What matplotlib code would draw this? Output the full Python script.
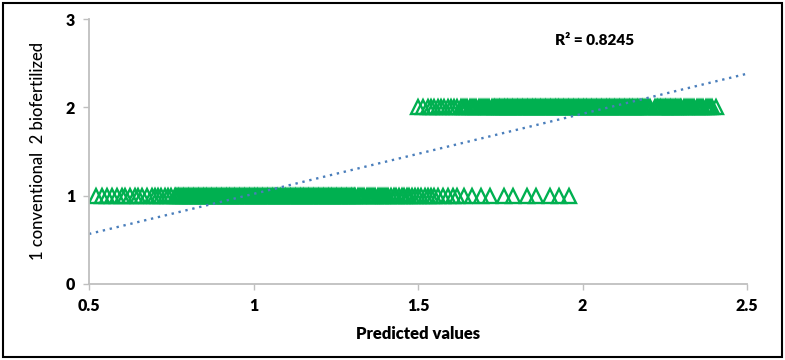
import matplotlib
matplotlib.use("Agg")
import matplotlib.pyplot as plt
from matplotlib.patches import Rectangle

# Predicted values for the conventional group (observed = 1)
conventional_pred = [
    0.52, 0.54, 0.555, 0.57, 0.585, 0.60, 0.61, 0.625, 0.64, 0.65, 0.66, 0.675,
    0.69, 0.70, 0.71, 0.72, 0.73, 0.74, 0.75, 0.76, 0.765, 0.77, 0.775, 0.78,
    0.785, 0.79, 0.795, 0.80, 0.805, 0.81, 0.815, 0.82, 0.825, 0.83, 0.835,
    0.84, 0.845, 0.85, 0.855, 0.86, 0.865, 0.87, 0.875, 0.88, 0.885, 0.89,
    0.895, 0.90, 0.905, 0.91, 0.915, 0.92, 0.925, 0.93, 0.935, 0.94, 0.945,
    0.95, 0.955, 0.96, 0.965, 0.97, 0.975, 0.98, 0.985, 0.99, 0.995, 1.00,
    1.005, 1.01, 1.015, 1.02, 1.025, 1.03, 1.035, 1.04, 1.045, 1.05, 1.055,
    1.06, 1.065, 1.07, 1.075, 1.08, 1.085, 1.09, 1.095, 1.10, 1.105, 1.11,
    1.115, 1.12, 1.125, 1.13, 1.135, 1.14, 1.145, 1.15, 1.155, 1.16, 1.165,
    1.17, 1.175, 1.18, 1.185, 1.19, 1.195, 1.20, 1.205, 1.21, 1.215, 1.22,
    1.225, 1.23, 1.235, 1.24, 1.245, 1.25, 1.255, 1.26, 1.265, 1.27, 1.275,
    1.28, 1.285, 1.29, 1.295, 1.30, 1.305, 1.31, 1.317, 1.324, 1.33, 1.337,
    1.344, 1.35, 1.357, 1.364, 1.37, 1.377, 1.384, 1.39, 1.397, 1.404, 1.41,
    1.418, 1.426, 1.434, 1.442, 1.45, 1.458, 1.466, 1.474, 1.482, 1.49,
    1.50, 1.51, 1.52, 1.53, 1.54, 1.55, 1.56, 1.575, 1.59, 1.605, 1.62,
    1.64, 1.665, 1.69, 1.72, 1.76, 1.79, 1.83, 1.86, 1.90, 1.93, 1.96,
]
conventional_obs = [1] * len(conventional_pred)

# Predicted values for the biofertilized group (observed = 2)
biofertilized_pred = [
    1.50, 1.515, 1.53, 1.54, 1.55, 1.56, 1.57, 1.58, 1.59, 1.60, 1.61, 1.62,
    1.63, 1.637, 1.644, 1.65, 1.657, 1.664, 1.67, 1.677, 1.684, 1.69, 1.697,
    1.704, 1.71, 1.717, 1.724, 1.73, 1.735, 1.74,
    1.745, 1.75, 1.755, 1.76, 1.765, 1.77, 1.775, 1.78, 1.785, 1.79, 1.795,
    1.80, 1.805, 1.81, 1.815, 1.82, 1.825, 1.83, 1.835, 1.84, 1.845, 1.85,
    1.855, 1.86, 1.865, 1.87, 1.875, 1.88, 1.885, 1.89, 1.895, 1.90, 1.905,
    1.91, 1.915, 1.92, 1.925, 1.93, 1.935, 1.94, 1.945, 1.95, 1.955, 1.96,
    1.965, 1.97, 1.975, 1.98, 1.985, 1.99, 1.995, 2.00, 2.005, 2.01, 2.015,
    2.02, 2.025, 2.03, 2.035, 2.04, 2.045, 2.05, 2.055, 2.06, 2.065, 2.07,
    2.075, 2.08, 2.085, 2.09, 2.095, 2.10, 2.105, 2.11, 2.115, 2.12, 2.125,
    2.13, 2.135, 2.14, 2.145, 2.15, 2.155, 2.16, 2.165, 2.17, 2.175, 2.18,
    2.185, 2.19, 2.195, 2.20, 2.205, 2.22, 2.225, 2.23, 2.235, 2.24, 2.245,
    2.25, 2.255, 2.26, 2.265, 2.27, 2.275, 2.28, 2.285, 2.29, 2.295, 2.30,
    2.307, 2.314, 2.32, 2.327, 2.334, 2.34, 2.347, 2.354, 2.36, 2.367,
    2.374, 2.38, 2.387, 2.394, 2.405,
]
biofertilized_obs = [2] * len(biofertilized_pred)

# Linear trendline
trend_x = [0.5, 2.5]
trend_slope = 0.907
trend_intercept = 0.113
r2_text = "R² = 0.8245"

x_ticks = [0.5, 1, 1.5, 2, 2.5]
x_ticklabels = ["0.5", "1", "1.5", "2", "2.5"]
y_ticks = [0, 1, 2, 3]
y_ticklabels = ["0", "1", "2", "3"]

plt.rcParams['font.family'] = ['Lato', 'DejaVu Sans']

fig = plt.figure(figsize=(7.85, 3.6), dpi=100)
ax = fig.add_axes([89 / 785, 1 - 284 / 360, (747 - 89) / 785, (284 - 19) / 360])

green = "#00b050"
for xs, ys in [(conventional_pred, conventional_obs),
               (biofertilized_pred, biofertilized_obs)]:
    ax.plot(xs, ys, linestyle="none", marker="^", markersize=10,
            markerfacecolor="none", markeredgecolor=green,
            markeredgewidth=1.7)

trend_y = [trend_slope * v + trend_intercept for v in trend_x]
ax.plot(trend_x, trend_y, linestyle=(0, (1, 2)), color="#4a7ebb",
        linewidth=1.7)

ax.text(1.915, 2.76, r2_text, fontsize=11, fontweight="heavy",
        ha="left", va="center")

ax.set_xlim(0.5, 2.5)
ax.set_ylim(0, 3)
ax.set_xticks(x_ticks)
ax.set_xticklabels(x_ticklabels, fontsize=11.5, fontweight="heavy")
ax.set_yticks(y_ticks)
ax.set_yticklabels(y_ticklabels, fontsize=11.5, fontweight="heavy")
for s in ["top", "right"]:
    ax.spines[s].set_visible(False)
for s in ["left", "bottom"]:
    ax.spines[s].set_color("#bfbfbf")
    ax.spines[s].set_linewidth(1.3)
ax.tick_params(axis="both", direction="out", length=4, width=1,
               color="#bfbfbf", pad=6)
ax.set_xlabel("Predicted values", fontsize=12, fontweight="heavy", labelpad=9)
ax.set_ylabel("1 conventional  2 biofertilized", fontsize=12,
              fontweight="medium", labelpad=14)

fig.patches.append(Rectangle((3 / 785, 3 / 360), 779 / 785, 354 / 360,
                             transform=fig.transFigure, fill=False,
                             edgecolor="black", linewidth=1.5))

fig.savefig("out.png", dpi=100)
